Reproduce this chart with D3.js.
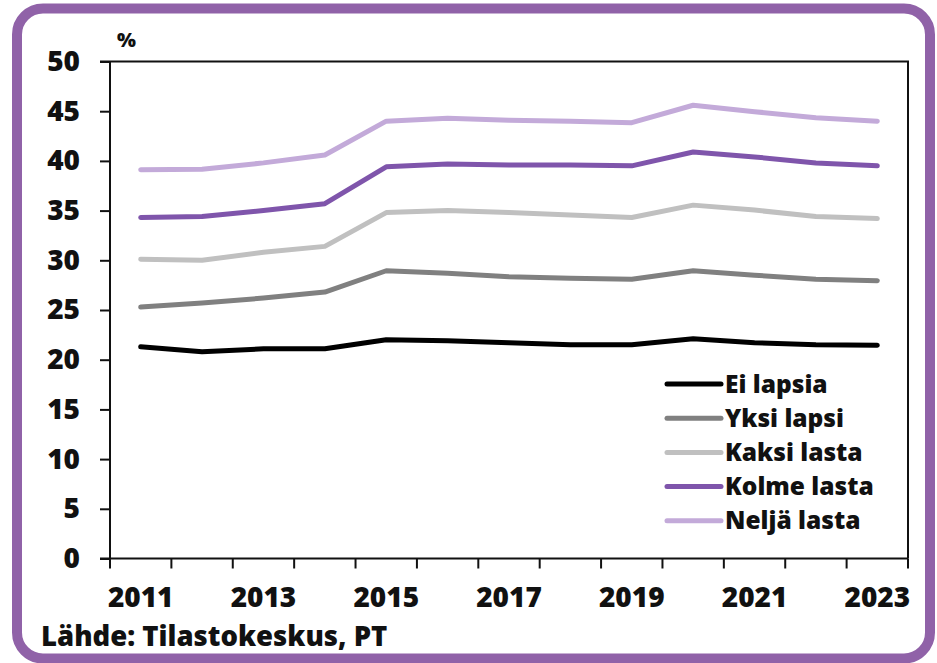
<!DOCTYPE html>
<html>
<head>
<meta charset="utf-8">
<script src="https://cdn.jsdelivr.net/npm/d3@7"></script>
<style>
  body { margin: 0; background: #fff; }
  svg text { font-family: "Open Sans", Lato, sans-serif; font-weight: 800; fill: #111; }
  .axis text { font-size: 28px; }
  .axis path, .axis line { stroke: #111; stroke-width: 2px; }
  .legend text { font-size: 24.5px; }
</style>
</head>
<body>
<svg width="937" height="663"></svg>
<script>
const years = [2011, 2012, 2013, 2014, 2015, 2016, 2017, 2018, 2019, 2020, 2021, 2022, 2023];
const yTicks = [0, 5, 10, 15, 20, 25, 30, 35, 40, 45, 50];

const seriesNames = ['Ei lapsia', 'Yksi lapsi', 'Kaksi lasta', 'Kolme lasta', 'Neljä lasta'];
const seriesColors = ['#000000', '#808080', '#c0c0c0', '#7f55ab', '#c3aad9'];

const eiLapsia   = [21.3, 20.8, 21.1, 21.1, 22.0, 21.9, 21.7, 21.5, 21.5, 22.1, 21.7, 21.5, 21.45];
const yksiLapsi  = [25.3, 25.7, 26.2, 26.8, 28.95, 28.7, 28.35, 28.2, 28.1, 28.95, 28.5, 28.1, 27.95];
const kaksiLasta = [30.1, 30.0, 30.8, 31.4, 34.8, 35.0, 34.8, 34.55, 34.3, 35.55, 35.05, 34.4, 34.2];
const kolmeLasta = [34.3, 34.4, 35.0, 35.7, 39.4, 39.7, 39.6, 39.6, 39.5, 40.9, 40.4, 39.8, 39.5];
const neljaLasta = [39.1, 39.15, 39.8, 40.6, 44.0, 44.3, 44.1, 44.0, 43.85, 45.6, 44.95, 44.35, 44.0];

const seriesValues = [eiLapsia, yksiLapsi, kaksiLasta, kolmeLasta, neljaLasta];

const svg = d3.select('svg');

// purple frame
svg.append('rect')
  .attr('x', 17).attr('y', 8.5)
  .attr('width', 913).attr('height', 650)
  .attr('rx', 26)
  .attr('fill', 'none')
  .attr('stroke', '#9062a8')
  .attr('stroke-width', 10);

const plotLeft = 110, plotRight = 908, plotTop = 61.5, plotBottom = 558.5;

const x = d3.scaleBand().domain(years).range([plotLeft, plotRight]);
const y = d3.scaleLinear().domain([0, 50]).range([plotBottom, plotTop]);

// box lines (top and right)
svg.append('path')
  .attr('d', `M${plotLeft - 10},${plotTop}H${plotRight}V${plotBottom}`)
  .attr('fill', 'none')
  .attr('stroke', '#111')
  .attr('stroke-width', 2);

// y axis
svg.append('g')
  .attr('class', 'axis')
  .attr('transform', `translate(${plotLeft},0)`)
  .call(d3.axisLeft(y).tickValues(yTicks).tickSize(10).tickPadding(20))
  .call(g => g.select('.domain').attr('d', `M0,${plotTop}V${plotBottom}`));

// x axis: ticks at band boundaries, labels centered on odd years
const xAxis = svg.append('g')
  .attr('class', 'axis')
  .attr('transform', `translate(0,${plotBottom})`);

xAxis.append('path')
  .attr('class', 'domain')
  .attr('d', `M${plotLeft - 10},0H${plotRight}`)
  .attr('fill', 'none');

xAxis.selectAll('line.tick')
  .data(years.concat([years[years.length - 1] + 1]))
  .enter().append('line')
  .attr('x1', (d, i) => i < years.length ? x(d) : plotRight)
  .attr('x2', (d, i) => i < years.length ? x(d) : plotRight)
  .attr('y1', 0).attr('y2', 10);

xAxis.selectAll('text')
  .data(years.filter(d => d % 2 === 1))
  .enter().append('text')
  .attr('x', d => x(d) + x.bandwidth() / 2)
  .attr('y', 48.5)
  .attr('text-anchor', 'middle')
  .text(d => d);

// lines
const line = d3.line()
  .x((d, i) => x(years[i]) + x.bandwidth() / 2)
  .y(d => y(d));

svg.selectAll('.series')
  .data(seriesValues)
  .enter().append('path')
  .attr('class', 'series')
  .attr('d', line)
  .attr('fill', 'none')
  .attr('stroke', (d, i) => seriesColors[i])
  .attr('stroke-width', 5)
  .attr('stroke-linecap', 'round')
  .attr('stroke-linejoin', 'round');

// legend
const legend = svg.append('g')
  .attr('class', 'legend')
  .attr('transform', 'translate(667,384)');

const rows = legend.selectAll('g')
  .data(seriesNames)
  .enter().append('g')
  .attr('transform', (d, i) => `translate(0,${i * 34.2})`);

rows.append('line')
  .attr('x1', 0).attr('x2', 54)
  .attr('stroke', (d, i) => seriesColors[i])
  .attr('stroke-width', 5)
  .attr('stroke-linecap', 'round');

rows.append('text')
  .attr('x', 58)
  .attr('dy', '0.35em')
  .text(d => d);

// unit and source
svg.append('text')
  .attr('x', 117).attr('y', 47)
  .style('font-size', '20px')
  .text('%');

svg.append('text')
  .attr('x', 41).attr('y', 646)
  .style('font-size', '27.5px')
  .text('Lähde: Tilastokeskus, PT');
</script>
</body>
</html>
